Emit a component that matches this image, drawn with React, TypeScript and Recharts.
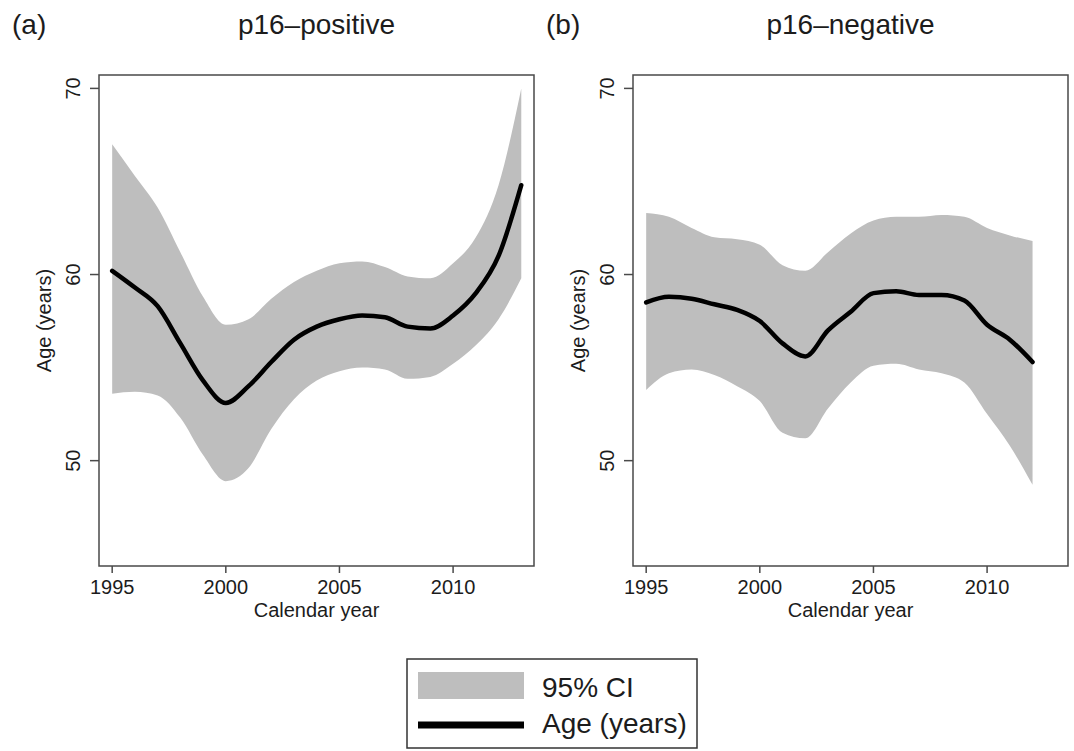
import React from 'react';
import { ComposedChart, Area, Line, XAxis, YAxis, ReferenceArea } from 'recharts';

// ---- Data ----
const yearsPos = [1995, 1996, 1997, 1998, 1999, 2000, 2001, 2002, 2003, 2004, 2005, 2006, 2007, 2008, 2009, 2010, 2011, 2012, 2013];
const posMean = [60.2, 59.3, 58.3, 56.3, 54.3, 53.1, 54.0, 55.3, 56.5, 57.2, 57.6, 57.8, 57.7, 57.2, 57.1, 57.8, 59.0, 61.0, 64.8];
const posLow = [53.6, 53.7, 53.5, 52.3, 50.3, 48.9, 49.6, 51.7, 53.3, 54.3, 54.8, 55.0, 54.9, 54.4, 54.5, 55.2, 56.2, 57.6, 59.8];
const posHigh = [67.0, 65.3, 63.6, 61.2, 58.8, 57.3, 57.6, 58.7, 59.6, 60.2, 60.6, 60.7, 60.4, 59.9, 59.8, 60.6, 62.0, 64.8, 70.0];

const yearsNeg = [1995, 1996, 1997, 1998, 1999, 2000, 2001, 2002, 2003, 2004, 2005, 2006, 2007, 2008, 2009, 2010, 2011, 2012];
const negMean = [58.5, 58.8, 58.7, 58.4, 58.1, 57.5, 56.3, 55.6, 57.0, 58.0, 59.0, 59.1, 58.9, 58.9, 58.6, 57.3, 56.5, 55.3];
const negLow = [53.8, 54.7, 54.9, 54.6, 54.0, 53.2, 51.5, 51.2, 52.8, 54.2, 55.1, 55.2, 54.9, 54.7, 54.2, 52.5, 50.8, 48.7];
const negHigh = [63.3, 63.1, 62.5, 62.0, 61.9, 61.6, 60.5, 60.2, 61.2, 62.2, 62.9, 63.1, 63.1, 63.2, 63.1, 62.5, 62.1, 61.8];

const xTicks = [1995, 2000, 2005, 2010];
const yTicks = [50, 60, 70];
const xDomain: [number, number] = [1994.42, 2013.56];
const yDomain: [number, number] = [44.34, 70.72];

const titles = ['p16\u2013positive', 'p16\u2013negative'];
const letters = ['(a)', '(b)'];
const legendLabels = ['95% CI', 'Age (years)'];

const FONT = '"Liberation Sans", Arial, Helvetica, sans-serif';
const TEXT = '#1c1c1c';
const BAND = '#bebebe';
const FRAME = '#4a4a4a';

function buildRows(years: number[], mean: number[], low: number[], high: number[]) {
  return years.map((yr, i) => ({ year: yr, mean: mean[i], ci: [low[i], high[i]] }));
}

const YTick = (props: any) => {
  const { x, y, payload } = props;
  return (
    <text
      x={x}
      y={y}
      transform={`rotate(-90 ${x} ${y})`}
      textAnchor="middle"
      fontSize={20}
      fontFamily={FONT}
      fill={TEXT}
    >
      {payload.value}
    </text>
  );
};

const YTitle = (props: any) => {
  const vb = props.viewBox || {};
  const cx = (vb.x ?? 0) + 51;
  const cy = (vb.y ?? 0) + (vb.height ?? 0) / 2;
  return (
    <text x={cx} y={cy} transform={`rotate(-90 ${cx} ${cy})`} textAnchor="middle" fontSize={20} fontFamily={FONT} fill={TEXT}>
      Age (years)
    </text>
  );
};

const XTitle = (props: any) => {
  const vb = props.viewBox || {};
  const cx = (vb.x ?? 0) + (vb.width ?? 0) / 2;
  const cy = (vb.y ?? 0) + 51;
  return (
    <text x={cx} y={cy} textAnchor="middle" fontSize={20} fontFamily={FONT} fill={TEXT}>
      Calendar year
    </text>
  );
};

function Panel({ rows, left }: { rows: any[]; left: number }) {
  return (
    <div style={{ position: 'absolute', left, top: 0 }}>
      <ComposedChart width={540} height={640} data={rows} margin={{ top: 75, right: 6, bottom: 0, left: 0 }}>
        <XAxis
          dataKey="year"
          type="number"
          domain={xDomain}
          allowDataOverflow
          ticks={xTicks}
          axisLine={false}
          tickLine={{ stroke: FRAME, strokeWidth: 1.5 }}
          tickSize={7}
          tickMargin={7}
          height={74}
          tick={{ fontSize: 20, fontFamily: FONT, fill: TEXT }}
          label={{ content: <XTitle /> } as any}
        />
        <YAxis
          type="number"
          domain={yDomain}
          allowDataOverflow
          ticks={yTicks}
          axisLine={false}
          tickLine={{ stroke: FRAME, strokeWidth: 1.5 }}
          tickSize={9}
          tickMargin={10}
          width={99}
          tick={<YTick />}
          label={{ content: <YTitle /> } as any}
        />
        <Area
          dataKey="ci"
          type="monotone"
          stroke="none"
          fill={BAND}
          fillOpacity={1}
          isAnimationActive={false}
          dot={false}
          activeDot={false}
        />
        <Line
          dataKey="mean"
          type="monotone"
          stroke="#000"
          strokeWidth={4.5}
          strokeLinecap="round"
          dot={false}
          activeDot={false}
          isAnimationActive={false}
        />
        <ReferenceArea
          x1={xDomain[0]}
          x2={xDomain[1]}
          y1={yDomain[0]}
          y2={yDomain[1]}
          fill="none"
          fillOpacity={0}
          stroke={FRAME}
          strokeWidth={1.5}
          ifOverflow="visible"
        />
      </ComposedChart>
    </div>
  );
}

export default function App() {
  const posRows = buildRows(yearsPos, posMean, posLow, posHigh);
  const negRows = buildRows(yearsNeg, negMean, negLow, negHigh);
  return (
    <div style={{ position: 'absolute', left: 0, top: 0, width: 1074, height: 751, background: '#fff', overflow: 'hidden' }}>
      <Panel rows={posRows} left={0} />
      <Panel rows={negRows} left={534} />
      <svg style={{ position: 'absolute', left: 0, top: 0 }} width={1074} height={60}>
        <text x={12} y={34} fontSize={28} fontFamily={FONT} fill={TEXT}>{letters[0]}</text>
        <text x={316.5} y={34} fontSize={28} fontFamily={FONT} fill={TEXT} textAnchor="middle">{titles[0]}</text>
        <text x={546} y={34} fontSize={28} fontFamily={FONT} fill={TEXT}>{letters[1]}</text>
        <text x={850.5} y={34} fontSize={28} fontFamily={FONT} fill={TEXT} textAnchor="middle">{titles[1]}</text>
      </svg>
      <svg style={{ position: 'absolute', left: 0, top: 640 }} width={1074} height={111}>
        <rect x={407} y={19} width={290} height={89} fill="#fff" stroke="#333" strokeWidth={1.5} />
        <rect x={418} y={32} width={106} height={27} fill={BAND} />
        <rect x={418} y={81.5} width={106} height={7} fill="#000" />
        <text x={542} y={57} fontSize={28} fontFamily={FONT} fill={TEXT}>{legendLabels[0]}</text>
        <text x={542} y={93} fontSize={28} fontFamily={FONT} fill={TEXT}>{legendLabels[1]}</text>
      </svg>
    </div>
  );
}
